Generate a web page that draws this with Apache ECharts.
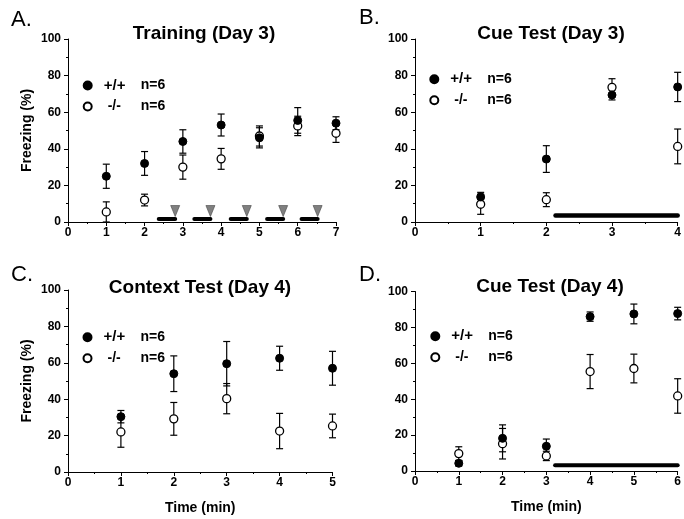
<!DOCTYPE html>
<html>
<head>
<meta charset="utf-8">
<script src="https://cdn.jsdelivr.net/npm/echarts@6/dist/echarts.min.js"></script>
<style>
html, body { margin: 0; padding: 0; background: #fff; }
#chart { width: 684px; height: 519px; }
</style>
</head>
<body>
<div id="chart"></div>
<script>
// A. Training (Day 3)
var trainX = [1, 2, 3, 4, 5, 6, 7];
var trainWT = [25, 32, 44, 53, 46, 55.5, 54];
var trainWTErr = [6.6, 6.5, 6.4, 6, 5.5, 7, 3.5];
var trainKO = [5.5, 12, 30, 34.5, 47, 52.5, 48.5];
var trainKOErr = [5.5, 3.2, 6.6, 5.7, 5.5, 5.3, 5];
var toneStart = [2.37, 3.30, 4.25, 5.20, 6.10];
var toneEnd = [2.80, 3.72, 4.67, 5.62, 6.52];

// B. Cue Test (Day 3)
var cue3X = [1, 2, 3, 4];
var cue3WT = [13.7, 34.4, 69.4, 73.8];
var cue3WTErr = [2.5, 7.3, 2.7, 8];
var cue3KO = [9.7, 12.2, 73.6, 41.3];
var cue3KOErr = [5.5, 3.8, 4.7, 9.5];
var cue3Tone = [2.14, 4.0];

// C. Context Test (Day 4)
var ctxX = [1, 2, 3, 4, 5];
var ctxWT = [30.4, 54, 59.5, 62.5, 57];
var ctxWTErr = [3.4, 9.8, 12.2, 6.6, 9.3];
var ctxKO = [22, 29.2, 40.3, 22.5, 25.3];
var ctxKOErr = [8.4, 9, 8.3, 9.7, 6.5];

// D. Cue Test (Day 4)
var cue4X = [1, 2, 3, 4, 5, 6];
var cue4WT = [4.3, 18.2, 13.8, 86, 87.5, 87.7];
var cue4WTErr = [1.5, 7.5, 4, 2.6, 5.5, 3.5];
var cue4KO = [9.7, 15.2, 8.4, 55.4, 57.1, 41.8];
var cue4KOErr = [3.8, 8.5, 2.6, 9.5, 8, 9.6];
var cue4Tone = [3.2, 6.0];

var yTicks = [0, 20, 40, 60, 80, 100];
var panelTitles = ['Training (Day 3)', 'Cue Test (Day 3)', 'Context Test (Day 4)', 'Cue Test (Day 4)'];
var panelLetters = ['A.', 'B.', 'C.', 'D.'];
var legendNames = ['+/+', '-/-'];
var legendN = 'n=6';

var FONT = '"Liberation Sans", Arial, sans-serif';

var myCharts = echarts.init(document.getElementById('chart'));

var grids = [
	{left: 68, top: 39, width: 268, height: 183},
	{left: 415, top: 39, width: 265, height: 183},
	{left: 68, top: 290, width: 264.5, height: 182},
	{left: 415, top: 291.5, width: 265, height: 179.5}
];
var xMax = [7, 4, 5, 6];

function pairs(xs, ys) {
	return xs.map(function (x, i) { return [x, ys[i]]; });
}
function errData(xs, ys, es) {
	return xs.map(function (x, i) { return [x, Math.max(0, ys[i] - es[i]), ys[i] + es[i]]; });
}

function errRender(params, api) {
	var x = api.value(0);
	var top = api.coord([x, api.value(2)]);
	var bot = api.coord([x, api.value(1)]);
	var w = 3.5;
	var st = {stroke: '#000', lineWidth: 1.2};
	return {
		type: 'group',
		children: [
			{type: 'line', shape: {x1: top[0], y1: top[1], x2: bot[0], y2: bot[1]}, style: st},
			{type: 'line', shape: {x1: top[0] - w, y1: top[1], x2: top[0] + w, y2: top[1]}, style: st},
			{type: 'line', shape: {x1: bot[0] - w, y1: bot[1], x2: bot[0] + w, y2: bot[1]}, style: st}
		]
	};
}

function barRender(width) {
	return function (params, api) {
		var p1 = api.coord([api.value(0), api.value(2)]);
		var p2 = api.coord([api.value(1), api.value(2)]);
		return {
			type: 'line',
			shape: {x1: p1[0], y1: p1[1], x2: p2[0], y2: p2[1]},
			style: {stroke: '#000', lineWidth: width, lineCap: 'round'}
		};
	};
}

var labelStyle = {color: '#000', fontFamily: FONT, fontWeight: 'bold', fontSize: 12};

var xAxes = [], yAxes = [], titles = [], legends = [], series = [];

grids.forEach(function (g, k) {
	xAxes.push({
		type: 'value', gridIndex: k, min: 0, max: xMax[k], interval: 1,
		name: k >= 2 ? 'Time (min)' : '',
		nameLocation: 'middle', nameGap: 29,
		nameTextStyle: {color: '#000', fontFamily: FONT, fontWeight: 'bold', fontSize: 14},
		axisLine: {lineStyle: {color: '#000', width: 1}},
		axisTick: {length: 4, lineStyle: {color: '#000'}},
		minorTick: {show: true, splitNumber: 2, length: 2, lineStyle: {color: '#000'}},
		splitLine: {show: false},
		axisLabel: Object.assign({margin: 5}, labelStyle)
	});
	yAxes.push({
		type: 'value', gridIndex: k, min: yTicks[0], max: yTicks[yTicks.length - 1], interval: 20,
		name: (k % 2 === 0) ? 'Freezing (%)' : '',
		nameLocation: 'middle', nameGap: 34,
		nameTextStyle: {color: '#000', fontFamily: FONT, fontWeight: 'bold', fontSize: 14},
		axisLine: {show: true, lineStyle: {color: '#000', width: 1}},
		axisTick: {show: true, length: 4, lineStyle: {color: '#000'}},
		minorTick: {show: true, splitNumber: 2, length: 2, lineStyle: {color: '#000'}},
		splitLine: {show: false},
		axisLabel: Object.assign({margin: 7}, labelStyle)
	});
});

var titleCenters = [[204, 24], [551, 24], [200, 278], [550, 277]];
var letterPos = [[11, 9], [359, 7], [11, 264], [359, 264]];
panelTitles.forEach(function (t, k) {
	titles.push({
		text: t, left: titleCenters[k][0], top: titleCenters[k][1], textAlign: 'center', padding: 0,
		textStyle: {color: '#000', fontFamily: FONT, fontWeight: 'bold', fontSize: 19}
	});
	titles.push({
		text: panelLetters[k], left: letterPos[k][0], top: letterPos[k][1], padding: 0,
		textStyle: {color: '#000', fontFamily: FONT, fontWeight: 'normal', fontSize: 22}
	});
});

var legendPos = [[82.7, 78], [429.3, 71.7], [82.5, 329.7], [430.3, 328.7]];
var legTxt = {fontFamily: FONT, fontWeight: 'bold', fontSize: 14};
legendPos.forEach(function (p, k) {
	legends.push({
		left: p[0], top: p[1], orient: 'vertical', padding: 0, itemGap: 6,
		itemWidth: 8, itemHeight: 8, selectedMode: false,
		data: legendNames,
		formatter: function (name) {
			return (name === '+/+' ? '{wt|' : '{ko|') + name + '}{n|' + legendN + '}';
		},
		textStyle: {
			color: '#000', fontFamily: FONT, fontWeight: 'bold', fontSize: 14, lineHeight: 15,
			rich: {
				wt: {width: 37, padding: [0, 0, 0, 7], fontFamily: FONT, fontWeight: 'bold', fontSize: 15},
				ko: {width: 33, padding: [0, 0, 0, 11], fontFamily: FONT, fontWeight: 'bold', fontSize: 14},
				n: legTxt
			}
		}
	});
});

var panels = [
	[trainX, trainWT, trainWTErr, trainKO, trainKOErr],
	[cue3X, cue3WT, cue3WTErr, cue3KO, cue3KOErr],
	[ctxX, ctxWT, ctxWTErr, ctxKO, ctxKOErr],
	[cue4X, cue4WT, cue4WTErr, cue4KO, cue4KOErr]
];

panels.forEach(function (d, k) {
	series.push({
		type: 'custom', xAxisIndex: k, yAxisIndex: k, renderItem: errRender, clip: false,
		encode: {x: 0, y: [1, 2]}, data: errData(d[0], d[3], d[4]), z: 2, silent: true
	});
	series.push({
		type: 'custom', xAxisIndex: k, yAxisIndex: k, renderItem: errRender, clip: false,
		encode: {x: 0, y: [1, 2]}, data: errData(d[0], d[1], d[2]), z: 2, silent: true
	});
	series.push({
		name: '-/-', type: 'scatter', xAxisIndex: k, yAxisIndex: k, symbol: 'circle', symbolSize: 8,
		itemStyle: {color: '#fff', borderColor: '#000', borderWidth: 1.3, opacity: 1},
		data: pairs(d[0], d[3]), z: 3, clip: false
	});
	series.push({
		name: '+/+', type: 'scatter', xAxisIndex: k, yAxisIndex: k, symbol: 'circle', symbolSize: 8,
		itemStyle: {color: '#000', borderColor: '#000', borderWidth: 1, opacity: 1},
		data: pairs(d[0], d[1]), z: 4, clip: false
	});
});

// tone bars and shocks in training
series.push({
	type: 'custom', xAxisIndex: 0, yAxisIndex: 0, renderItem: barRender(4), clip: false, silent: true,
	data: toneStart.map(function (s, i) { return [s, toneEnd[i], 1.6]; }), z: 2
});
series.push({
	type: 'scatter', xAxisIndex: 0, yAxisIndex: 0, symbol: 'triangle', symbolRotate: 180,
	symbolSize: [9, 11], silent: true,
	itemStyle: {color: '#808080', borderColor: '#444', borderWidth: 0.6, opacity: 1},
	data: toneEnd.map(function (e) { return [e, 6]; }), z: 2
});
// tone bars in cue tests
series.push({
	type: 'custom', xAxisIndex: 1, yAxisIndex: 1, renderItem: barRender(4.5), clip: false, silent: true,
	data: [[cue3Tone[0], cue3Tone[1], 3.5]], z: 2
});
series.push({
	type: 'custom', xAxisIndex: 3, yAxisIndex: 3, renderItem: barRender(4), clip: false, silent: true,
	data: [[cue4Tone[0], cue4Tone[1], 3.2]], z: 2
});

var option = {
	animation: false,
	backgroundColor: '#fff',
	title: titles,
	legend: legends,
	grid: grids,
	xAxis: xAxes,
	yAxis: yAxes,
	series: series
};
myCharts.setOption(option);
</script>
</body>
</html>
